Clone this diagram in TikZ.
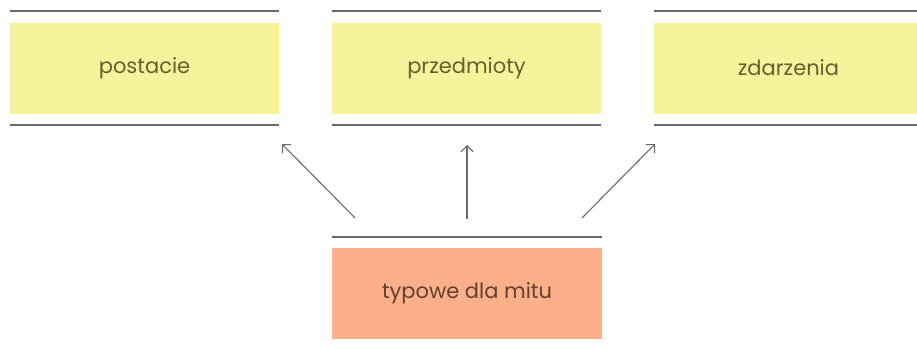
\documentclass[tikz,border=0pt]{standalone}
\usepackage{fontspec}
\setmainfont{Poppins}
\usetikzlibrary{arrows.meta}
\definecolor{boxyellow}{HTML}{F7F29C}
\definecolor{boxorange}{HTML}{FBB08A}
\definecolor{rulegray}{HTML}{6A6A6A}
\definecolor{txtyellow}{HTML}{66602E}
\definecolor{txtorange}{HTML}{66402C}
\begin{document}
\begin{tikzpicture}[x=1pt,y=-1pt,
  ybox/.style={fill=boxyellow,draw=none,minimum width=269pt,minimum height=91pt,inner sep=0pt,
    font=\fontsize{21}{24}\selectfont,text=txtyellow},
  obox/.style={fill=boxorange,draw=none,minimum width=270pt,minimum height=91pt,inner sep=0pt,
    font=\fontsize{21}{24}\selectfont,text=txtorange},
  hrule/.style={draw=rulegray,line width=1.8pt},
  conn/.style={draw=rulegray,line width=1.1pt,-{Straight Barb[length=6pt,width=12pt,line width=1.1pt]}}]
\useasboundingbox (0,0) rectangle (917,348);
\node[ybox] (a) at (144.5,68) {postacie};
\node[ybox] (b) at (466.5,68) {przedmioty};
\node[ybox] (c) at (788.5,68) {zdarzenia};
\node[obox] (d) at (467,293.5) {typowe dla mitu};
\foreach \n in {a,b,c}{
  \draw[hrule] ([yshift=11pt]\n.north west) -- ([yshift=11pt]\n.north east);
  \draw[hrule] ([yshift=-11pt]\n.south west) -- ([yshift=-11pt]\n.south east);
}
\draw[hrule] ([yshift=10.5pt]d.north west) -- ([yshift=10.5pt]d.north east);
\coordinate (s1) at (355,218);
\coordinate (s2) at (467,219);
\coordinate (s3) at (582,218);
\coordinate (e1) at (282,144);
\coordinate (e2) at (467,145);
\coordinate (e3) at (655,144);
\draw[conn] (s1) -- (e1);
\draw[conn] (s2) -- (e2);
\draw[conn] (s3) -- (e3);
\end{tikzpicture}
\end{document}
